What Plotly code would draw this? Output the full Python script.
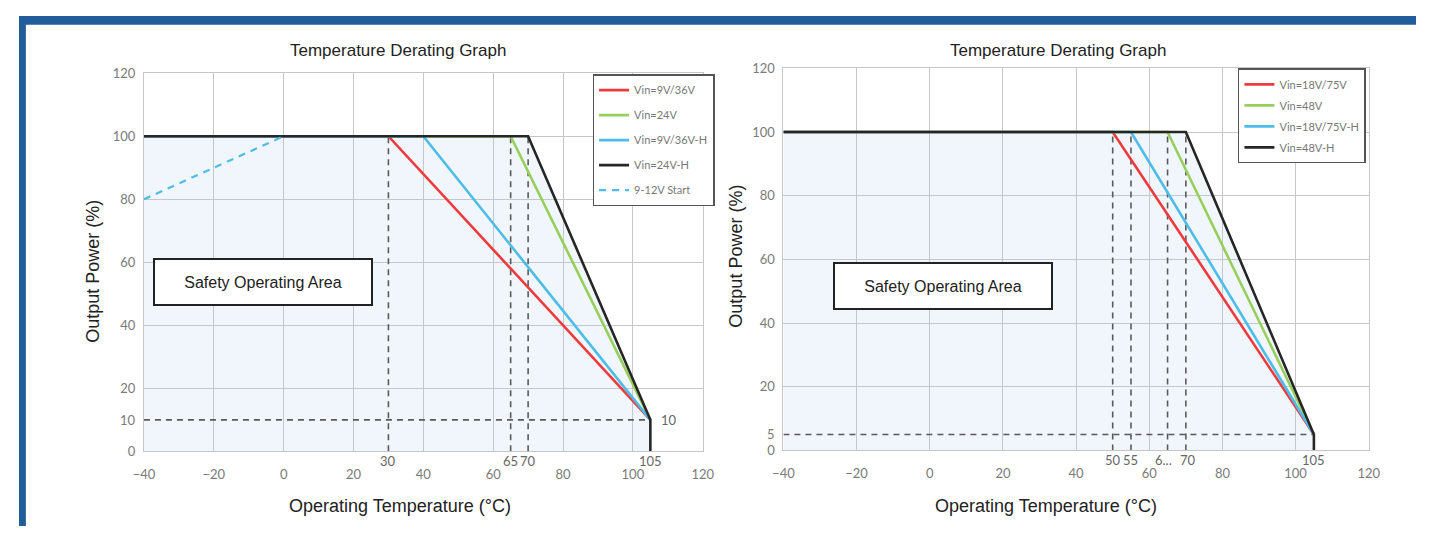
import plotly.graph_objects as go

# The page adds an 8px body margin, so the figure is sized to fit inside it.
OFF = 8
FW, FH = 1436 - 2 * OFF, 542 - 2 * OFF

def px(x):
    return (x - OFF) / FW

def py(y):
    return 1 - (y - OFF) / FH

# ---------------- data ----------------
x_ticks = [-40, -20, 0, 20, 40, 60, 80, 100, 120]
y_ticks = [0, 20, 40, 60, 80, 100, 120]

# left chart
left_names = ["Vin=9V/36V", "Vin=24V", "Vin=9V/36V-H", "Vin=24V-H"]
left_red_x = [-40, 30, 105]
left_red_y = [100, 100, 10]
left_green_x = [-40, 65, 105]
left_green_y = [100, 100, 10]
left_blue_x = [-40, 40, 105]
left_blue_y = [100, 100, 10]
left_black_x = [-40, 70, 105, 105]
left_black_y = [100, 100, 10, 0]
left_start_name = "9-12V Start"
left_start_x = [-40, 0]
left_start_y = [80, 100]
left_marks = [30, 65, 70]
left_mark_labels = ["30", "65", "70", "105"]
left_mark_label_x = [30, 65, 70, 105]
left_level = 10
left_end_x = 105

# right chart
right_names = ["Vin=18V/75V", "Vin=48V", "Vin=18V/75V-H", "Vin=48V-H"]
right_red_x = [-40, 50, 105]
right_red_y = [100, 100, 5]
right_green_x = [-40, 65, 105]
right_green_y = [100, 100, 5]
right_blue_x = [-40, 55, 105]
right_blue_y = [100, 100, 5]
right_black_x = [-40, 70, 105, 105]
right_black_y = [100, 100, 5, 0]
right_marks = [50, 55, 65, 70]
right_mark_labels = ["50", "55", "6...", "70", "105"]
right_mark_label_x = [50, 55, 65, 70, 105]
right_level = 5
right_end_x = 105

title_text = "Temperature Derating Graph"
xtitle_text = "Operating Temperature (°C)"
ytitle_text = "Output Power (%)"
area_text = "Safety Operating Area"

# ---------------- styles ----------------
RED = "#ef3a3c"
GREEN = "#97cf5c"
BLUE = "#4cbde9"
BLACK = "#262626"
DASH = "#5a5a5a"
FILL = "rgba(180,208,235,0.2)"
GRID = "#c6c6c6"
TICK = "#7a7a7a"
TICKFONT = dict(family="Lato, Open Sans, sans-serif", size=13, color=TICK)

fig = go.Figure()


def add_chart(xa, ya, legend, names, series, start, marks, level, end_x,
              env_x, env_y):
    fx = [env_x[0]] + list(env_x) + [env_x[0]]
    fy = [0] + list(env_y) + [0]
    fig.add_trace(go.Scatter(x=fx, y=fy, fill="toself", fillcolor=FILL,
                             line=dict(width=0), mode="lines", hoverinfo="skip",
                             showlegend=False, xaxis=xa, yaxis=ya))
    for m in marks:
        fig.add_trace(go.Scatter(x=[m, m], y=[0, 100], mode="lines",
                                 line=dict(color=DASH, width=1.6, dash="6px,5px"),
                                 showlegend=False, hoverinfo="skip",
                                 xaxis=xa, yaxis=ya))
    fig.add_trace(go.Scatter(x=[x_ticks[0], end_x], y=[level, level], mode="lines",
                             line=dict(color=DASH, width=1.6, dash="6px,5px"),
                             showlegend=False, hoverinfo="skip",
                             xaxis=xa, yaxis=ya))
    colors = [RED, GREEN, BLUE, BLACK]
    for i, (name, (sx, sy)) in enumerate(zip(names, series)):
        fig.add_trace(go.Scatter(x=sx, y=sy, mode="lines", name=name,
                                 line=dict(color=colors[i], width=2.6),
                                 legend=legend, legendgroup=name,
                                 xaxis=xa, yaxis=ya))
    if start is not None:
        sname, sx, sy = start
        fig.add_trace(go.Scatter(x=sx, y=sy, mode="lines", name=sname,
                                 line=dict(color=BLUE, width=2.2, dash="7px,6px"),
                                 legend=legend, legendgroup=sname,
                                 xaxis=xa, yaxis=ya))


add_chart("x", "y", "legend", left_names,
          [(left_red_x, left_red_y), (left_green_x, left_green_y),
           (left_blue_x, left_blue_y), (left_black_x, left_black_y)],
          (left_start_name, left_start_x, left_start_y),
          left_marks, left_level, left_end_x, left_black_x, left_black_y)
add_chart("x2", "y2", "legend2", right_names,
          [(right_red_x, right_red_y), (right_green_x, right_green_y),
           (right_blue_x, right_blue_y), (right_black_x, right_black_y)],
          None, right_marks, right_level, right_end_x, right_black_x, right_black_y)

axis_common = dict(showgrid=True, gridcolor=GRID, gridwidth=1, zeroline=False,
                   showline=True, linecolor=GRID, linewidth=1, mirror=True,
                   tickfont=TICKFONT, ticks="outside",
                   tickcolor="rgba(0,0,0,0)", fixedrange=True)

fig.update_layout(
    width=FW, height=FH,
    margin=dict(l=0, r=0, t=0, b=0),
    paper_bgcolor="white", plot_bgcolor="white",
    xaxis=dict(domain=[px(135), px(703)], range=[-40, 120], tickvals=x_ticks,
               ticklen=11, anchor="y", **axis_common),
    yaxis=dict(domain=[py(457), py(67)], range=[0, 120], tickvals=y_ticks,
               ticklen=5, anchor="x", **axis_common),
    xaxis2=dict(domain=[px(785), px(1380)], range=[-40, 120], tickvals=x_ticks,
                ticklen=11, anchor="y2", **axis_common),
    yaxis2=dict(domain=[py(456), py(62)], range=[0, 120], tickvals=y_ticks,
                ticklen=5, anchor="x2", **axis_common),
    legend=dict(x=px(591), y=py(68), xanchor="left", yanchor="top",
                bgcolor="white", bordercolor="#555", borderwidth=1.5,
                font=dict(family="Lato, sans-serif", size=11, color="#777"),
                tracegroupgap=6, itemwidth=30, traceorder="grouped"),
    legend2=dict(x=px(1247), y=py(62), xanchor="left", yanchor="top",
                 bgcolor="white", bordercolor="#555", borderwidth=1.5,
                 font=dict(family="Lato, sans-serif", size=11, color="#777"),
                 tracegroupgap=2, itemwidth=30, traceorder="grouped"),
    showlegend=True,
)

ann = []
TITLEFONT = dict(family="Liberation Sans, Arial, sans-serif", size=17, color="#222")
AXTFONT = dict(family="Liberation Sans, Arial, sans-serif", size=18, color="#222")
for cx, tx, ty_x, ty_y in [(393, 395, 83, 271), (1064, 1052, 737, 256)]:
    ann.append(dict(x=px(cx), y=py(44), xref="paper", yref="paper", text=title_text,
                    showarrow=False, font=TITLEFONT, xanchor="center", yanchor="middle"))
    ann.append(dict(x=px(tx), y=py(513), xref="paper", yref="paper", text=xtitle_text,
                    showarrow=False, font=AXTFONT, xanchor="center", yanchor="middle"))
    ann.append(dict(x=px(ty_x), y=py(ty_y), xref="paper", yref="paper", text=ytitle_text,
                    showarrow=False, font=AXTFONT, textangle=-90,
                    xanchor="center", yanchor="middle"))

for cx, cy in [(256, 282), (947, 286)]:
    ann.append(dict(x=px(cx), y=py(cy), xref="paper", yref="paper", text=area_text,
                    showarrow=False,
                    font=dict(family="Liberation Sans, Arial, sans-serif", size=16, color="#222"),
                    bgcolor="white", bordercolor="#222", borderwidth=2, borderpad=3,
                    width=210, height=38, xanchor="center", yanchor="middle"))

MARKFONT = dict(family="Lato, sans-serif", size=13, color="#666")
for lx, lt in zip(left_mark_label_x, left_mark_labels):
    ann.append(dict(x=lx, y=0, xref="x", yref="y", text=lt, showarrow=False,
                    font=MARKFONT, xanchor="center", yanchor="top", yshift=0))
shifts = {"6...": -4, "70": 2}
for lx, lt in zip(right_mark_label_x, right_mark_labels):
    ann.append(dict(x=lx, y=0, xref="x2", yref="y2", text=lt, showarrow=False,
                    font=MARKFONT, xanchor="center", yanchor="top", yshift=0,
                    xshift=shifts.get(lt, 0)))

ann.append(dict(x=left_end_x, y=left_level, xref="x", yref="y", text=str(left_level),
                showarrow=False, font=MARKFONT, xanchor="left", yanchor="middle", xshift=9))
ann.append(dict(x=-40, y=left_level, xref="x", yref="y", text=str(left_level),
                showarrow=False, font=TICKFONT, xanchor="right", yanchor="middle", xshift=-6))
ann.append(dict(x=-40, y=right_level, xref="x2", yref="y2", text=str(right_level),
                showarrow=False, font=TICKFONT, xanchor="right", yanchor="middle", xshift=-6))

fig.update_layout(annotations=ann)

# frame: top blue bar and left blue edge (at the figure's top-left)
fig.add_shape(type="rect", xref="paper", yref="paper", x0=0, x1=1, y0=1 - 9 / FH, y1=1,
              fillcolor="#215d9b", line=dict(width=0), layer="above")
fig.add_shape(type="rect", xref="paper", yref="paper", x0=0, x1=7 / FW, y0=0, y1=1,
              fillcolor="#215d9b", line=dict(width=0), layer="above")

fig.write_html("out.html", config={"displayModeBar": False})
